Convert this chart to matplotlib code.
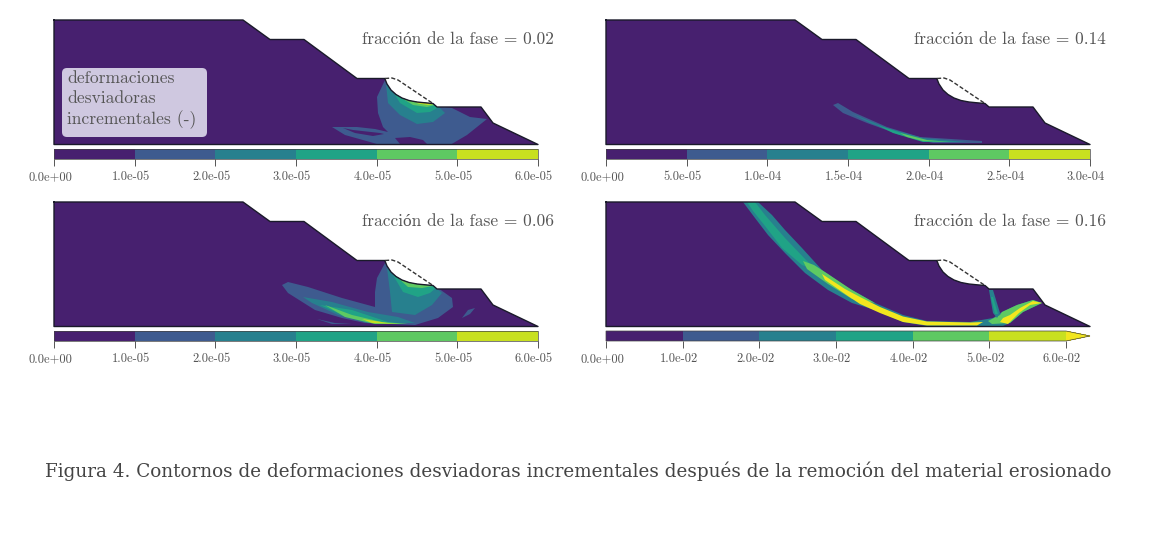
import matplotlib
matplotlib.use('Agg')
import matplotlib.pyplot as plt
from matplotlib.cm import ScalarMappable
from matplotlib.colors import BoundaryNorm, ListedColormap
from matplotlib.patches import FancyBboxPatch, Polygon
from matplotlib.ticker import FormatStrFormatter
from matplotlib.transforms import ScaledTranslation

W, H = 1161, 540
SERIF = ['cmr10', 'Liberation Serif']
DARK_TEXT = '#555555'

# viridis in six classes; the last one is the overflow arrow
class_colors = ['#47206f', '#3e5b8f', '#27808e', '#20a386', '#5ec962', '#c8e020']
over_color = '#f2e61e'
fill_colors = class_colors + [over_color]

# slope geometry (model units, y grows downwards)
crater = [(385, 79), (387, 84), (391, 90), (396, 94.5), (402, 98), (409, 100.5), (417, 102), (425, 102.8), (433, 103.5)]
slope = [(54, 20), (243, 20), (270, 39.5), (304, 39.5), (357, 78.5), (385, 78.5)] + crater + \
        [(437, 107), (481, 107), (493, 123), (538, 144.5), (54, 144.5)]
eroded = [(385, 78.5), (392, 78), (398, 80), (433, 103.5)]

# contours of panel 0.02: (class, outline)
contours_002 = [
    (1, [(385, 80), (377, 97), (378, 113), (383, 127), (388, 132), (375, 129), (357, 127), (332, 127), (345, 135),
         (370, 142), (380, 145), (450, 145), (467, 135), (487, 119), (470, 117), (452, 108), (437, 106), (433, 103)]),
    (0, [(343, 128), (353, 130), (380, 133), (384, 134), (373, 136), (355, 133)]),
    (0, [(395, 138), (410, 137), (423, 140), (427, 144), (400, 144)]),
    (2, [(386, 84), (388, 103), (400, 115), (417, 124), (433, 122), (445, 113), (437, 105), (425, 101), (405, 96), (392, 88)]),
    (3, [(392, 90), (400, 103), (417, 113), (430, 112), (439, 107), (425, 101), (405, 96)]),
    (4, [(400, 97), (413, 105), (427, 107), (435, 105), (425, 101), (409, 99)]),
    (5, [(414, 101), (425, 102.5), (434, 104), (428, 105), (418, 103.5)]),
]

# contours of panel 0.14
contours_014 = [
    (1, [(281, 105), (286, 103), (301, 112), (335, 127), (368, 137), (430, 141), (430, 143), (381, 143), (348, 135), (315, 123), (291, 113)]),
    (2, [(298, 113), (335, 128), (371, 138), (415, 142), (378, 142), (345, 133), (318, 123)]),
    (3, [(325, 125), (371, 140), (405, 142), (371, 142), (341, 133)]),
    (4, [(348, 133), (375, 140), (398, 142), (371, 141), (355, 137)]),
]

# contours of panel 0.06
contours_006 = [
    (1, [(385, 81), (377, 96), (375, 110), (375, 125), (342, 116), (308, 105), (288, 100), (282, 103), (288, 111), (315, 128),
         (342, 136), (365, 141), (415, 143), (438, 136), (453, 125), (452, 116), (438, 106), (425, 101), (400, 94)]),
    (1, [(317, 137), (335, 141), (352, 142), (332, 142)]),
    (1, [(462, 136), (468, 128), (475, 126), (470, 132)]),
    (2, [(387, 86), (390, 110), (392, 130), (415, 133), (432, 123), (442, 111), (435, 105), (425, 101), (405, 96)]),
    (2, [(303, 115), (332, 120), (368, 130), (398, 135), (415, 141), (368, 141), (338, 133), (312, 121)]),
    (3, [(393, 93), (403, 110), (418, 115), (430, 111), (437, 105), (425, 101), (405, 96)]),
    (3, [(320, 123), (352, 128), (388, 140), (407, 142), (372, 141), (338, 131)]),
    (4, [(398, 96), (408, 105), (422, 106), (433, 104), (425, 101), (409, 99)]),
    (4, [(325, 123), (352, 133), (382, 140), (408, 142), (375, 142), (345, 135)]),
    (5, [(362, 137), (388, 141), (400, 142), (372, 141)]),
]

# contours of panel 0.16
contours_016 = [
    (2, [(191, 20), (206, 20), (220, 33), (233, 48), (250, 66), (270, 88), (293, 104), (323, 121), (351, 133), (375, 139),
         (418, 140), (441, 136), (450, 130), (465, 123), (481, 118), (490, 121), (471, 130), (458, 141), (451, 144),
         (375, 144), (351, 140), (323, 128), (300, 121), (276, 108), (253, 91), (233, 71), (216, 53), (203, 36)]),
    (3, [(195, 20), (203, 20), (213, 33), (233, 56), (255, 79), (270, 91), (250, 83), (230, 66), (213, 44), (201, 29)]),
    (4, [(251, 79), (262, 83), (276, 92), (300, 108), (323, 121), (300, 117), (276, 102), (255, 87)]),
    (4, [(436, 139), (448, 133), (450, 130), (465, 123), (481, 118), (490, 121), (471, 130), (458, 141), (440, 142)]),
    (6, [(270, 92), (293, 107), (308, 115), (328, 125), (351, 134.5), (375, 139.5), (418, 140.5), (431, 140), (425, 143.5),
         (375, 143.5), (351, 140), (328, 131), (308, 122), (296, 114), (273, 98)]),
    (6, [(448, 140), (451, 136), (458, 133), (468, 126), (481, 119), (490, 121), (478, 123), (467, 131), (456, 142)]),
    (2, [(437, 108), (441, 108), (448, 131), (445, 136), (441, 131)]),
    (3, [(439, 115), (441, 115), (446, 132), (443, 132)]),
]

# one entry per panel
phase_labels = ['fracción de la fase = 0.02', 'fracción de la fase = 0.14',
                'fracción de la fase = 0.06', 'fracción de la fase = 0.16']
panel_contours = [contours_002, contours_014, contours_006, contours_016]
panel_bounds = [[0, 1e-5, 2e-5, 3e-5, 4e-5, 5e-5, 6e-5],
                [0, 5e-5, 1e-4, 1.5e-4, 2e-4, 2.5e-4, 3e-4],
                [0, 1e-5, 2e-5, 3e-5, 4e-5, 5e-5, 6e-5],
                [0, 1e-2, 2e-2, 3e-2, 4e-2, 5e-2, 6e-2]]
panel_extend = ['neither', 'neither', 'neither', 'max']
panel_left = [54, 606, 54, 606]
panel_top = [20, 20, 202, 202]


def px_axes(fig, left, top, right, bottom):
    return fig.add_axes([left / W, 1 - bottom / H, (right - left) / W, (bottom - top) / H])


fig = plt.figure(figsize=(W / 100, H / 100), dpi=100, facecolor='white')
cmap = ListedColormap(class_colors)
cmap.set_over(over_color)
axes = []

for i in range(4):
    left, top = panel_left[i], panel_top[i]
    ax = px_axes(fig, left, top, left + 484, top + 125)
    ax.set_xlim(54, 538)
    ax.set_ylim(145, 20)
    ax.axis('off')
    axes.append(ax)

    domain = Polygon(slope, closed=True, facecolor=class_colors[0], edgecolor='none', zorder=1)
    ax.add_patch(domain)
    for level, outline in panel_contours[i]:
        xs, ys = zip(*outline)
        for artist in ax.fill(xs, ys, color=fill_colors[level], lw=0, zorder=2):
            artist.set_clip_path(domain)

    xs, ys = zip(*(slope + slope[:1]))
    ax.plot(xs, ys, color='#1a1a2a', lw=1.0, zorder=3, clip_on=False)
    xs, ys = zip(*eroded)
    ax.plot(xs, ys, color='#333333', lw=1.0, ls=(0, (3, 1.5)), zorder=3, clip_on=False)

    fig.text((left + 500) / W, 1 - (top + 19) / H, phase_labels[i], family=SERIF, fontsize=12.5,
             color=DARK_TEXT, ha='right', va='center')

    cax = px_axes(fig, left, top + 129, left + 484, top + 139)
    norm = BoundaryNorm(panel_bounds[i], 6)
    frac = 24 / 460 if panel_extend[i] == 'max' else None
    cb = fig.colorbar(ScalarMappable(norm=norm, cmap=cmap), cax=cax, orientation='horizontal',
                      extend=panel_extend[i], extendfrac=frac, ticks=panel_bounds[i],
                      format=FormatStrFormatter('%.1e'))
    cb.minorticks_off()
    cb.outline.set_linewidth(0.5)
    cb.outline.set_edgecolor('#444444')
    cax.tick_params(length=5, width=0.7, color='#555555', labelsize=9, labelcolor=DARK_TEXT, pad=10)
    # labels sit a little left of their ticks in the original
    shift = ScaledTranslation(-4 / 100, 0, fig.dpi_scale_trans)
    for label in cax.get_xticklabels():
        label.set_family(SERIF)
        label.set_verticalalignment('baseline')
        label.set_transform(label.get_transform() + shift)

# legend box of the first panel
axes[0].add_patch(FancyBboxPatch((66, 72), 137, 61, boxstyle='round,pad=4,rounding_size=5',
                                 facecolor='#cfc8e0', edgecolor='none', zorder=5))
axes[0].text(67, 100, 'deformaciones\ndesviadoras\nincrementales (-)', family=SERIF, fontsize=12.6,
             color=DARK_TEXT, ha='left', va='center', linespacing=1.33, zorder=6)

fig.text(45 / W, 1 - 471 / H,
         'Figura 4. Contornos de deformaciones desviadoras incrementales después de la remoción del material erosionado',
         family='DejaVu Serif', fontsize=13.27, color='#444444', ha='left', va='center')

fig.savefig('out.png', dpi=100)
